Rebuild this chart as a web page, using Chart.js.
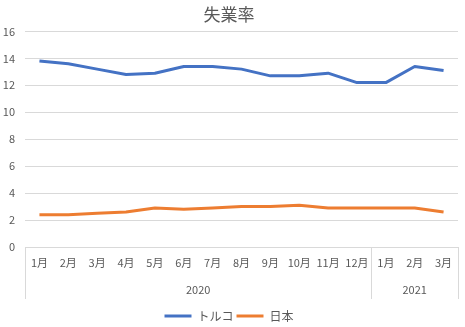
<!DOCTYPE html>
<html>
<head>
<meta charset="utf-8">
<script src="https://cdn.jsdelivr.net/npm/chart.js@4/dist/chart.umd.min.js"></script>
<style>
  html, body { margin: 0; padding: 0; background: #fff; }
</style>
</head>
<body>
<canvas id="chart" width="465" height="327"></canvas>
<script>
const months = ['1月', '2月', '3月', '4月', '5月', '6月', '7月', '8月', '9月', '10月', '11月', '12月', '1月', '2月', '3月'];
const years = ['2020', '2021'];
const yearSpans = [12, 3];
const turkey = [13.8, 13.6, 13.2, 12.8, 12.9, 13.4, 13.4, 13.2, 12.7, 12.7, 12.9, 12.2, 12.2, 13.4, 13.1];
const japan = [2.4, 2.4, 2.5, 2.6, 2.9, 2.8, 2.9, 3.0, 3.0, 3.1, 2.9, 2.9, 2.9, 2.9, 2.6];

const FONT = "'Noto Sans CJK JP', 'Noto Sans', sans-serif";
const TEXT = '#595959';
const GRID = '#d9d9d9';

// second row of the category axis: years and the group separators
const yearGroups = {
  id: 'yearGroups',
  afterDraw(chart) {
    const x = chart.scales.x;
    const area = chart.chartArea;
    const ctx = chart.ctx;
    const half = (x.getPixelForValue(1) - x.getPixelForValue(0)) / 2;
    const edges = [x.getPixelForValue(0) - half];
    let start = 0;
    ctx.save();
    ctx.font = '11px ' + FONT;
    ctx.fillStyle = TEXT;
    ctx.textAlign = 'center';
    ctx.textBaseline = 'middle';
    years.forEach((year, i) => {
      const end = start + yearSpans[i] - 1;
      const left = x.getPixelForValue(start) - half;
      const right = x.getPixelForValue(end) + half;
      ctx.fillText(year, (left + right) / 2, area.bottom + 43);
      edges.push(right);
      start = end + 1;
    });
    ctx.strokeStyle = GRID;
    ctx.lineWidth = 1;
    edges.forEach((e) => {
      const px = Math.round(e) + 0.5;
      ctx.beginPath();
      ctx.moveTo(px, area.bottom);
      ctx.lineTo(px, area.bottom + 52);
      ctx.stroke();
    });
    ctx.restore();
  }
};

new Chart(document.getElementById('chart'), {
  type: 'line',
  data: {
    labels: months,
    datasets: [{
      label: 'トルコ',
      data: turkey,
      borderColor: '#4472c4',
      backgroundColor: '#4472c4',
      borderWidth: 3,
      pointRadius: 0,
      tension: 0
    }, {
      label: '日本',
      data: japan,
      borderColor: '#ed7d31',
      backgroundColor: '#ed7d31',
      borderWidth: 3,
      pointRadius: 0,
      tension: 0
    }]
  },
  options: {
    responsive: false,
    animation: false,
    borderJoinStyle: 'round',
    layout: { padding: { left: 0, right: 7, top: 0, bottom: -5 } },
    plugins: {
      title: {
        display: true,
        text: '失業率',
        color: TEXT,
        font: { family: FONT, size: 17, weight: 'normal' },
        padding: { top: 4, bottom: 7 }
      },
      legend: {
        position: 'bottom',
        labels: {
          color: TEXT,
          font: { family: FONT, size: 12 },
          boxWidth: 27,
          boxHeight: 3,
          padding: 3,
          generateLabels(chart) {
            return Chart.defaults.plugins.legend.labels.generateLabels(chart)
              .map((item) => Object.assign(item, { lineWidth: 0 }));
          }
        }
      },
      tooltip: { enabled: false }
    },
    scales: {
      x: {
        offset: true,
        grid: { display: false },
        border: { display: true, color: GRID },
        ticks: {
          color: TEXT,
          font: { family: FONT, size: 11 },
          autoSkip: false,
          maxRotation: 0,
          padding: 1
        },
        afterFit(scale) { scale.height = 60; }
      },
      y: {
        min: 0,
        max: 16,
        grid: { color: GRID, drawTicks: false },
        border: { display: false },
        ticks: {
          stepSize: 2,
          color: TEXT,
          font: { family: FONT, size: 11 },
          padding: 10
        },
        afterFit(scale) { scale.width = 25; }
      }
    }
  },
  plugins: [yearGroups]
});
</script>
</body>
</html>
